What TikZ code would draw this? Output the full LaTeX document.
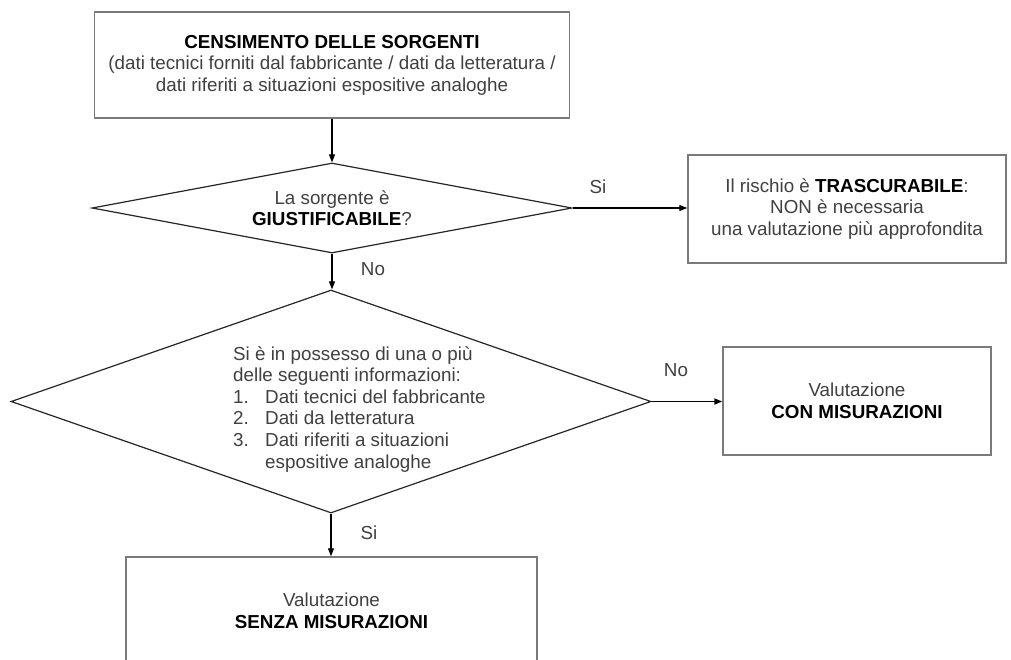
\documentclass[tikz,border=0pt]{standalone}
\usepackage{fontspec}
\setmainfont{Liberation Sans}
\usetikzlibrary{shapes.geometric,arrows.meta}
\definecolor{boxline}{HTML}{7A7A7A}
\definecolor{txt}{HTML}{404040}
\tikzset{
  stepbox/.style={draw=boxline, line width=1.4pt, rectangle, inner sep=0pt, align=center, text=txt},
  dia/.style={draw=black!85, line width=1.2pt, diamond, inner sep=0pt},
  conn/.style={draw=black, line width=1.1pt, -{Triangle[length=8pt,width=6pt]}},
  lbl/.style={text=txt, inner sep=0pt}
}
\begin{document}
\begin{tikzpicture}[x=1pt,y=-1pt, every node/.style={font=\fontsize{18.8}{21.6}\selectfont}]
\useasboundingbox (0,0) rectangle (1011,659);
\clip (0,0) rectangle (1011,659);
\fill[white] (0,0) rectangle (1011,659);

% Box 1
\node[stepbox, minimum width=475pt, minimum height=106pt] (b1) at (332,65)
  {\textcolor{black}{\textbf{CENSIMENTO DELLE SORGENTI}}\\
   (dati tecnici forniti dal fabbricante / dati da letteratura /\\
   dati riferiti a situazioni espositive analoghe};

% Diamond 1
\node[dia, minimum width=480pt, minimum height=90pt] (d1) at (332,208) {};
\node[lbl, align=center] (d1t) at (d1.center)
  {La sorgente è\\\textcolor{black}{\textbf{GIUSTIFICABILE}}?};

% Box 2
\node[stepbox, minimum width=318pt, minimum height=108pt] (b2) at (847,209)
  {Il rischio è \textcolor{black}{\textbf{TRASCURABILE}}:\\
   NON è necessaria\\
   una valutazione più approfondita};

% Diamond 2
\node[dia, minimum width=640pt, minimum height=223pt] (d2) at (331,401.5) {};
\node[lbl, align=left, anchor=north west] (d2t) at (233,346)
  {Si è in possesso di una o più\\
   delle seguenti informazioni:\\
   \makebox[32pt][l]{1.}Dati tecnici del fabbricante\\
   \makebox[32pt][l]{2.}Dati da letteratura\\
   \makebox[32pt][l]{3.}Dati riferiti a situazioni\\
   \hspace*{32pt}espositive analoghe};

% Box 4
\node[stepbox, minimum width=268pt, minimum height=108pt] (b4) at (857,401)
  {Valutazione\\\textcolor{black}{\textbf{CON MISURAZIONI}}};

% Box 3
\node[stepbox, minimum width=411pt, minimum height=108pt] (b3) at (331.5,611)
  {Valutazione\\\textcolor{black}{\textbf{SENZA MISURAZIONI}}};

% Connectors
\draw[conn] (b1.south) -- (b1.south |- d1.north);
\draw[conn] (d1.east) -- (d1.east -| b2.west);
\draw[conn] (d1.south) -- (d1.south |- d2.north);
\draw[conn, line width=1.6pt] (d2.east) -- (d2.east -| b4.west);
\draw[conn] (d2.south) -- (d2.south |- b3.north);

% Labels
\node[lbl] (l1) at (598,187) {Si};
\node[lbl] (l2) at (373,269) {No};
\node[lbl] (l3) at (676,370) {No};
\node[lbl] (l4) at (369,533) {Si};
\end{tikzpicture}
\end{document}
